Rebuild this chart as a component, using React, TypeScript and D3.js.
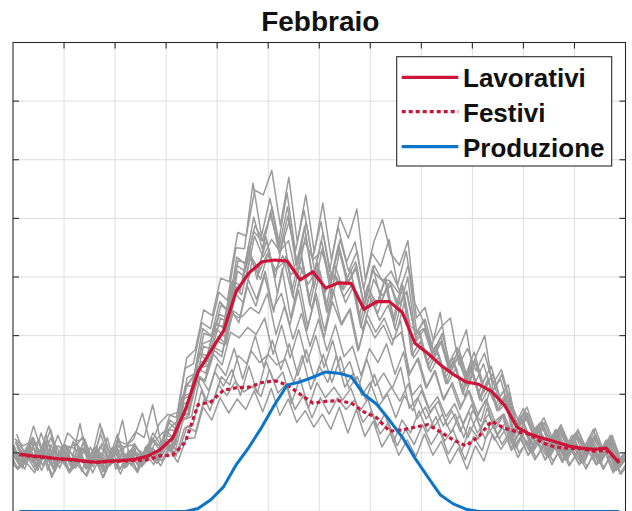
import React from "react";
import * as d3 from "d3";

const title = "Febbraio";
const legendLabels = ["Lavorativi", "Festivi", "Produzione"];
const xTicks = d3.range(0, 25, 2);
const yTicks = d3.range(0, 801, 100);
const halfHourTimes = d3.range(48).map((i) => 0.25 + i * 0.5);
const grayTimes = d3.range(73).map((i) => i / 3);
// sampling offset (hours) of each gray day profile: holidays, partial days, working days
const grayOffsets = [0, 0.12, -0.09, 0.05, -0.14, 0.16, -0.03, 0.09, -0.12, 0.14, -0.06, 0.03, 0.1, -0.15, 0.07, -0.1, 0.13, -0.04, 0.15];

const lavorativi = [98,95,93,90,89,86,84,86,87,89,94,105,125,173,238,274,308,376,407,426,429,427,395,409,381,390,389,345,358,358,340,287,270,250,234,221,217,205,182,144,132,125,119,112,108,106,108,83];
const festivi = [97,94,92,90,88,86,84,85,86,87,88,95,96,118,182,187,207,211,212,220,223,216,200,185,188,189,185,170,160,137,139,144,148,136,122,112,128,154,142,136,132,117,110,108,107,103,104,86];
const produzione = [0,0,0,0,0,0,0,0,0,0,0,0,0,0,5,20,42,80,110,144,182,216,221,229,238,236,230,200,183,156,127,91,59,28,13,4,0,0,0,0,0,0,0,0,0,0,0,0];

const grayWorking: number[][] = [
  [118,92,126,98,88,130,95,84,118,80,112,88,132,86,116,92,124,112,140,154,214,230,286,292,336,330,420,410,478,462,505,450,520,420,486,398,462,392,456,398,426,352,410,396,394,374,372,302,312,268,290,240,262,222,258,210,230,184,196,140,160,128,142,120,134,112,126,106,124,102,118,86,96],
  [92,74,94,70,96,62,98,66,84,60,92,58,94,64,98,66,100,88,118,112,168,176,244,236,280,272,338,330,396,362,410,340,414,330,394,316,372,308,378,318,346,276,336,306,330,292,306,236,262,212,240,190,220,180,206,166,192,154,166,116,136,104,122,96,118,88,110,86,116,80,108,70,84],
  [132,96,146,100,140,88,134,120,124,84,142,98,120,114,136,126,182,116,164,170,262,276,344,334,398,392,476,470,548,540,582,488,570,460,540,442,526,430,502,466,516,396,460,498,440,420,462,330,348,292,316,330,250,278,240,270,218,242,190,154,178,136,160,124,148,114,140,106,142,104,130,90,104],
  [108,84,106,80,120,72,108,86,96,76,112,72,110,86,104,74,114,96,130,126,190,198,270,266,322,312,394,384,440,414,462,398,470,378,446,364,424,350,420,378,402,326,378,354,398,324,386,282,306,250,276,228,254,206,250,194,226,178,198,130,156,118,144,104,140,102,126,98,128,94,116,78,94],
  [114,74,108,122,70,112,80,120,68,110,76,126,72,110,114,78,104,88,124,114,184,190,256,248,298,286,372,356,426,396,446,372,436,358,422,344,410,338,398,356,386,308,362,326,352,306,362,262,284,238,266,218,246,196,236,188,214,172,186,124,150,114,134,110,128,96,122,86,118,88,118,74,90],
  [120,104,84,134,92,112,100,80,118,84,132,88,106,96,112,94,126,110,152,138,210,234,312,300,358,342,434,422,502,448,512,440,504,428,460,430,444,396,448,388,414,350,418,358,392,352,376,300,326,268,298,244,272,310,218,252,204,226,176,140,168,126,148,112,144,108,132,100,128,98,122,80,98],
  [88,72,84,66,104,58,90,70,80,62,96,58,92,72,88,68,100,80,110,106,162,166,232,224,276,264,346,322,384,350,402,346,372,318,378,308,366,296,358,320,344,274,326,296,318,284,326,232,260,210,240,192,216,174,206,160,190,146,164,108,134,96,122,88,116,84,106,80,106,80,102,66,84],
  [124,112,120,102,146,94,112,108,128,88,150,100,114,110,124,168,112,150,166,160,244,252,322,312,374,360,450,448,560,470,534,458,544,444,514,432,494,410,486,426,460,380,440,418,464,386,444,356,326,280,340,252,280,232,272,220,248,196,216,146,170,128,152,116,142,108,134,110,140,100,130,84,106],
  [104,80,100,82,98,88,104,68,112,74,108,70,104,86,98,80,104,84,116,102,156,164,246,254,318,316,392,376,454,396,470,408,436,404,418,388,410,374,402,380,412,334,386,350,396,328,390,316,306,256,284,234,262,212,250,202,234,182,206,134,162,120,146,108,138,102,130,96,126,92,122,74,92],
  [116,84,126,88,106,94,110,86,104,90,100,84,124,80,102,90,122,102,140,136,214,214,282,276,330,322,410,398,470,434,464,444,462,398,470,382,450,370,444,392,420,338,396,368,386,340,400,290,312,262,290,236,266,214,254,204,236,186,202,132,160,118,144,110,134,104,128,96,126,98,122,76,98],
  [100,80,116,72,132,80,98,84,150,76,96,88,102,156,78,100,90,124,138,126,196,202,270,256,312,298,384,370,432,406,440,412,426,366,434,352,414,340,404,366,388,314,370,338,382,312,370,266,290,242,272,218,252,200,244,190,224,172,194,128,154,114,138,104,132,96,124,92,118,90,116,72,94],
  [114,94,108,90,126,84,104,92,110,76,116,80,122,84,108,98,134,112,156,144,228,236,304,298,352,340,428,424,488,460,520,446,494,420,494,410,476,398,464,410,444,362,420,392,410,376,420,306,328,272,304,246,276,226,266,300,206,234,178,144,168,128,152,116,142,110,136,104,132,100,128,80,102],
];

const grayMiddle: number[][] = [
  [102,72,110,76,94,80,100,66,106,72,102,68,108,72,104,70,110,88,122,112,168,166,228,222,268,250,306,296,314,302,330,268,318,262,310,254,300,246,292,234,256,210,260,214,236,210,246,176,194,158,180,146,172,136,170,134,156,122,144,104,126,96,120,88,112,84,108,80,106,80,102,68,84],
  [110,80,118,78,114,74,108,116,76,108,78,96,112,80,98,86,108,86,114,102,146,136,192,184,230,216,266,252,300,246,292,242,286,232,276,224,268,220,264,210,230,190,234,192,212,188,218,158,178,144,166,134,164,126,160,124,146,114,138,100,120,92,114,86,110,80,104,76,104,74,102,64,84],
  [98,80,108,70,110,68,102,82,92,74,106,68,100,86,96,78,102,82,114,108,172,182,246,248,292,284,342,332,348,338,372,302,350,294,338,282,328,274,318,264,282,232,278,254,286,234,272,198,216,176,196,162,184,150,182,144,166,132,152,110,132,100,124,92,116,88,112,82,108,82,106,70,88],
];

const grayHoliday: number[][] = [
  [108,92,104,84,122,80,114,74,108,90,102,84,106,92,104,86,108,90,114,100,156,162,230,206,252,232,278,226,274,254,268,250,260,220,266,208,248,220,266,212,236,198,220,180,200,160,198,172,206,170,188,146,166,126,172,154,204,174,192,148,176,136,152,116,138,106,132,102,126,100,124,84,100],
  [102,72,110,70,100,82,92,74,104,66,96,78,92,76,98,80,100,78,106,84,124,126,178,156,194,168,192,174,206,170,210,164,192,152,172,144,166,140,178,134,174,128,154,110,134,96,122,94,132,96,120,82,108,72,112,86,132,106,128,92,120,88,114,80,108,78,102,72,104,72,100,64,88],
  [118,84,100,88,106,72,112,78,94,84,102,68,108,88,100,80,112,92,122,106,166,180,224,190,238,214,242,198,248,202,256,220,238,184,228,176,220,194,212,190,210,170,192,144,166,118,156,134,172,136,162,120,140,102,144,124,176,142,166,130,156,120,140,102,128,94,122,90,116,88,116,76,98],
  [110,80,118,84,98,82,114,76,108,80,96,78,112,74,106,76,110,86,112,94,142,148,206,172,216,198,222,204,214,196,242,202,218,174,198,160,194,166,194,174,190,152,172,132,152,112,140,114,148,114,138,98,124,88,128,104,152,124,146,108,138,102,126,94,120,88,116,84,114,84,112,74,96],
];

const RED = "#cc1538";
const BLUE = "#0d74c8";
const GRAY = "#9b9b9b";
const FONT = "'Liberation Sans', Arial, Helvetica, sans-serif";

export default function App() {
  const W = 632;
  const H = 511;
  const left = 13, right = 625.5, top = 42.5, bottom = 511.5;
  const x = d3.scaleLinear().domain([0, 24]).range([left, right]);
  const y = d3.scaleLinear().domain([0, 800]).range([bottom, top]);

  const lineHalf = d3
    .line<number>()
    .x((_, i) => x(halfHourTimes[i]))
    .y((d) => y(d));
  const lineGray = (off: number) =>
    d3
      .line<number>()
      .x((_, i) => x(grayTimes[i] + off))
      .y((d) => y(d));

  const grays = [...grayHoliday, ...grayMiddle, ...grayWorking];
  const axisColor = "#2b2b2b";
  const tickLen = 6;

  const legendX = 396.7, legendY = 56.7, legendW = 215, legendH = 109.3;
  const rows = [
    { label: legendLabels[0], color: RED, dash: undefined as string | undefined, cy: 77.3, by: 87 },
    { label: legendLabels[1], color: RED, dash: "4 3", cy: 111.7, by: 122 },
    { label: legendLabels[2], color: BLUE, dash: undefined, cy: 146.7, by: 157 },
  ];

  return (
    <div style={{ position: "absolute", left: 0, top: 0 }}>
      <svg width={W} height={H} viewBox={`0 0 ${W} ${H}`} style={{ display: "block", background: "#fff" }}>
        <defs>
          <clipPath id="plotClip">
            <rect x={left} y={top} width={right - left} height={bottom - top} />
          </clipPath>
        </defs>
        <rect x={0} y={0} width={W} height={H} fill="#fff" />
        <g stroke="#dedede" strokeWidth={1}>
          {xTicks.slice(1, -1).map((t) => (
            <line key={"gx" + t} x1={x(t)} x2={x(t)} y1={top} y2={bottom} />
          ))}
          {yTicks.slice(1, -1).map((t) => (
            <line key={"gy" + t} x1={left} x2={right} y1={y(t)} y2={y(t)} />
          ))}
        </g>
        <g clipPath="url(#plotClip)" fill="none">
          {grays.map((s, i) => (
            <path key={"g" + i} d={lineGray(grayOffsets[i] || 0)(s) || ""} stroke={GRAY} strokeWidth={1.5} strokeLinejoin="round" />
          ))}
          <path d={lineHalf(lavorativi) || ""} stroke={RED} strokeWidth={3.2} strokeLinejoin="round" />
          <path d={lineHalf(festivi) || ""} stroke={RED} strokeWidth={3.2} strokeDasharray="4 3" />
          <path d={lineHalf(produzione) || ""} stroke={BLUE} strokeWidth={3} strokeLinejoin="round" />
        </g>
        <g stroke={axisColor} strokeWidth={1.1}>
          <rect x={left} y={top} width={right - left} height={bottom - top} fill="none" />
          {yTicks.slice(1, -1).map((t) => (
            <g key={"ty" + t}>
              <line x1={left} x2={left + tickLen} y1={y(t)} y2={y(t)} />
              <line x1={right} x2={right - tickLen} y1={y(t)} y2={y(t)} />
            </g>
          ))}
          {xTicks.slice(1, -1).map((t) => (
            <line key={"tx" + t} x1={x(t)} x2={x(t)} y1={top} y2={top + tickLen} />
          ))}
        </g>
        <text x={(left + right) / 2 + 1} y={31} textAnchor="middle" fontFamily={FONT} fontWeight="bold" fontSize={28} fill="#111">
          {title}
        </text>
        <g>
          <rect x={legendX} y={legendY} width={legendW} height={legendH} fill="#fff" stroke={axisColor} strokeWidth={1.1} />
          {rows.map((r) => (
            <g key={r.label}>
              <line x1={401.7} x2={458.3} y1={r.cy} y2={r.cy} stroke={r.color} strokeWidth={3.2} strokeDasharray={r.dash} />
              <text x={463} y={r.by} fontFamily={FONT} fontWeight="bold" fontSize={26} fill="#111">
                {r.label}
              </text>
            </g>
          ))}
        </g>
      </svg>
    </div>
  );
}
